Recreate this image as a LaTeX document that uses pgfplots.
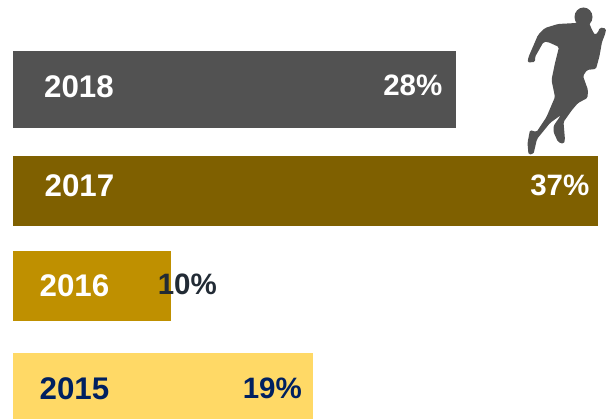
\documentclass[border=0pt]{standalone}
\usepackage{pgfplots}
\pgfplotsset{compat=1.18}
\usepackage{fontspec}
\setmainfont{Liberation Sans}
\definecolor{barA}{HTML}{525252}
\definecolor{barB}{HTML}{7F6000}
\definecolor{barC}{HTML}{BF9000}
\definecolor{barD}{HTML}{FFD966}
\definecolor{navy}{HTML}{002060}
\definecolor{slate}{HTML}{222B35}
\begin{document}
\begin{tikzpicture}
\begin{axis}[
  scale only axis, width=610pt, height=419pt,
  hide axis, clip=false,
  xmin=-0.822, xmax=37.76,
  ymin=0, ymax=419, y dir=reverse,
  xbar, bar shift=0pt,
]
% Each year has its own band: y is the band centre, bar width its thickness
\addplot[draw=none, fill=barA, bar width=77pt] coordinates {(28,89.5)};
\addplot[draw=none, fill=barB, bar width=70pt] coordinates {(37,191)};
\addplot[draw=none, fill=barC, bar width=70pt] coordinates {(10,286)};
\addplot[draw=none, fill=barD, bar width=66pt] coordinates {(19,386)};
\end{axis}
\begin{scope}[x=1pt, y=-1pt, shift={(0pt,419pt)}]
  \path (0,0) rectangle (610,419);
  % Year labels
  \tikzset{lab/.style={font=\fontsize{29.5}{30}\selectfont\bfseries, inner sep=0pt},
           yr/.style={font=\fontsize{31.3}{32}\selectfont\bfseries, inner sep=0pt}}
  \node[yr, text=white] at (79,87) {2018};
  \node[yr, text=white] at (79.5,186) {2017};
  \node[yr, text=white] at (74.5,286) {2016};
  \node[yr, text=navy]  at (74.5,389) {2015};
  % Share labels
  \node[lab, text=white, anchor=east] at (442.5,85) {28\%};
  \node[lab, text=white, anchor=east] at (589.5,185) {37\%};
  \node[lab, text=slate, anchor=east] at (217,284) {10\%};
  \node[lab, text=navy,  anchor=east] at (302,388) {19\%};
  % Runner silhouette: head and body
  \begin{scope}[xshift=500pt]
  \fill[barA] (83.5,17) ellipse [x radius=9, y radius=9.5];
  \fill[barA, rounded corners=1.5pt]
    (76.5,23) -- (80,20) -- (88,20) -- (90,25) -- (92,30) -- (95,35) -- (97.5,33) -- (100,27.5) -- (106,28.5)
    -- (105.5,33) -- (102,42) -- (99.5,56) -- (96,69) -- (91,69.5) -- (87,70)
    -- (83,76) -- (88,90) -- (87.5,98) -- (78,103)
    -- (72,110) -- (63.5,122) -- (65,140) -- (63.5,144) -- (58,142) -- (53.5,132)
    -- (53.5,126) -- (61,115) -- (50,123) -- (37,139) -- (33.5,154) -- (28.5,154.5)
    -- (27.5,143) -- (30,130) -- (36.5,132) -- (46.5,117) -- (55,97) -- (51.5,80)
    -- (55,63) -- (59,47) -- (48,42) -- (43.5,42) -- (35,57) -- (35,62)
    -- (27.5,62.5) -- (28.5,57) -- (38,35) -- (45,28) -- (58,24) -- cycle;
  \end{scope}
\end{scope}
\end{tikzpicture}
\end{document}
